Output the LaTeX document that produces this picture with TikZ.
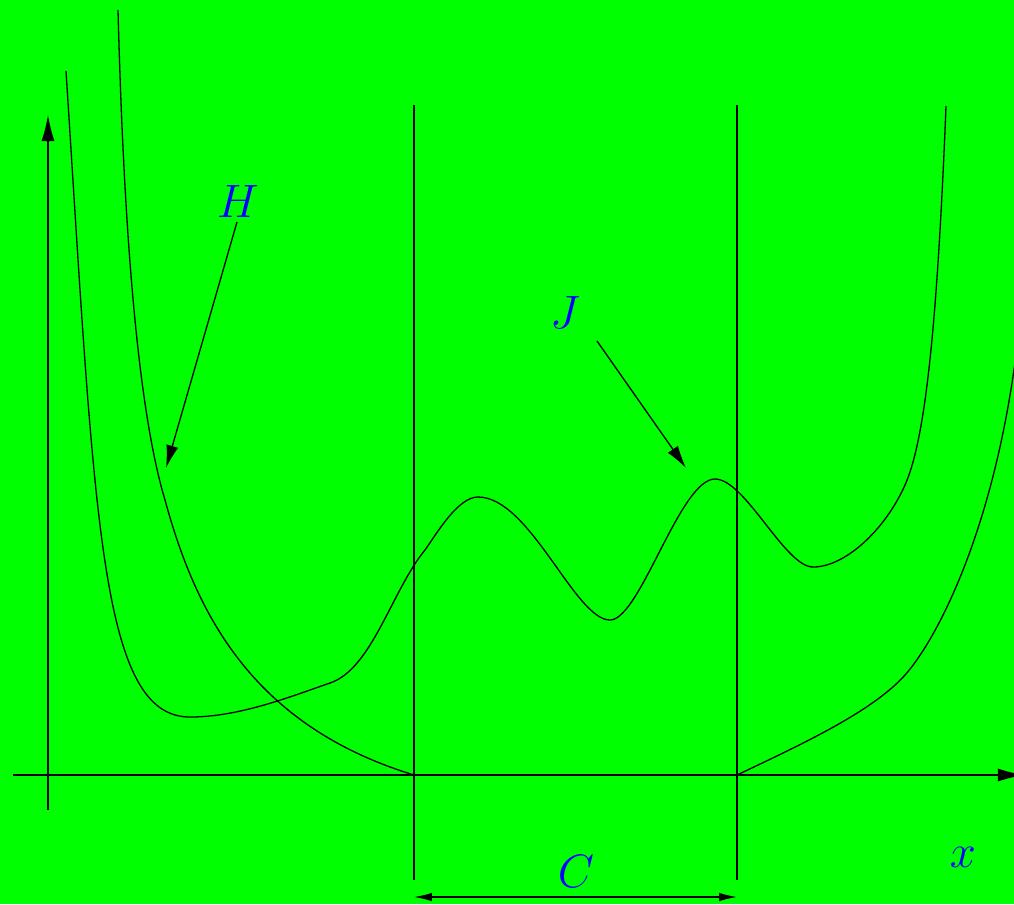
\documentclass[tikz,border=0pt]{standalone}
\usepackage{amsmath,amssymb}
\usepackage{xcolor}
\usetikzlibrary{
  arrows.meta,
  positioning,
  calc
}
\definecolor{bggreen}{HTML}{00FF00}
\definecolor{labelblue}{HTML}{0000FF}

\begin{document}
\begin{tikzpicture}[
    x=0.0108cm, y=-0.0108cm,
    every node/.style={font=\Large},
    curve/.style={line width=0.4pt, black},
    axis/.style={line width=0.4pt, -{Latex[length=8pt,width=4pt]}},
    pointer/.style={line width=0.4pt, -{Latex[length=7pt,width=3.8pt]}},
    span/.style={line width=0.4pt, {Latex[length=5.5pt,width=2.6pt]}-{Latex[length=5.5pt,width=2.6pt]}},
    guide/.style={line width=0.4pt},
    lbl/.style={text=labelblue, inner sep=1pt},
  ]

  % --- Background ---
  \fill[bggreen] (0,0) rectangle (1014,904);
  \useasboundingbox (0,0) rectangle (1014,904);

  % --- Axes ---
  \coordinate (xstart) at (13,775);
  \coordinate (xend) at (1024,775);
  \coordinate (ystart) at (48,810);
  \coordinate (yend) at (48,115);
  \draw[axis] (xstart) -- (xend);
  \draw[axis] (ystart) -- (yend);

  % --- Interval C ---
  \coordinate (cleftTop) at (414,105);
  \coordinate (cleftBot) at (414,880);
  \coordinate (crightTop) at (737,105);
  \coordinate (crightBot) at (737,880);
  \coordinate (cleft) at (414,897);
  \coordinate (cright) at (737,897);
  \draw[guide] (cleftTop) -- (cleftBot);
  \draw[guide] (crightTop) -- (crightBot);
  \draw[span] (cleft) -- (cright);

  % --- Curve H ---
  \draw[curve] (118,10) .. controls (123,200) and (135,400) .. (165,500)
    .. controls (195,610) and (250,725) .. (414,775);
  \draw[curve] (737,775) .. controls (800,745) and (872,712) .. (905,675)
    .. controls (938,638) and (1000,520) .. (1020,320);

  % --- Curve J ---
  \draw[curve] (66,71) .. controls (95,520) and (100,717) .. (190,717)
    .. controls (240,717) and (292,696) .. (330,683)
    .. controls (372,669) and (392,590) .. (425,550)
    .. controls (437,533) and (458,497) .. (478,497)
    .. controls (530,497) and (575,620) .. (610,620)
    .. controls (640,620) and (680,479) .. (715,479)
    .. controls (745,479) and (785,567) .. (813,567)
    .. controls (845,567) and (885,530) .. (905,485)
    .. controls (925,440) and (937,330) .. (946,106);

  % --- Labels ---
  \node[lbl] (labH) at (238,201) {$H$};
  \node[lbl] (labJ) at (565,312) {$J$};
  \node[lbl] (labC) at (576,871) {$C$};
  \node[lbl] (labX) at (963,857) {$x$};

  % --- Pointers ---
  \coordinate (hTail) at (237,222);
  \coordinate (hTip) at (166,468);
  \coordinate (jTail) at (597,341);
  \coordinate (jTip) at (686,468);
  \draw[pointer] (hTail) -- (hTip);
  \draw[pointer] (jTail) -- (jTip);

\end{tikzpicture}
\end{document}
